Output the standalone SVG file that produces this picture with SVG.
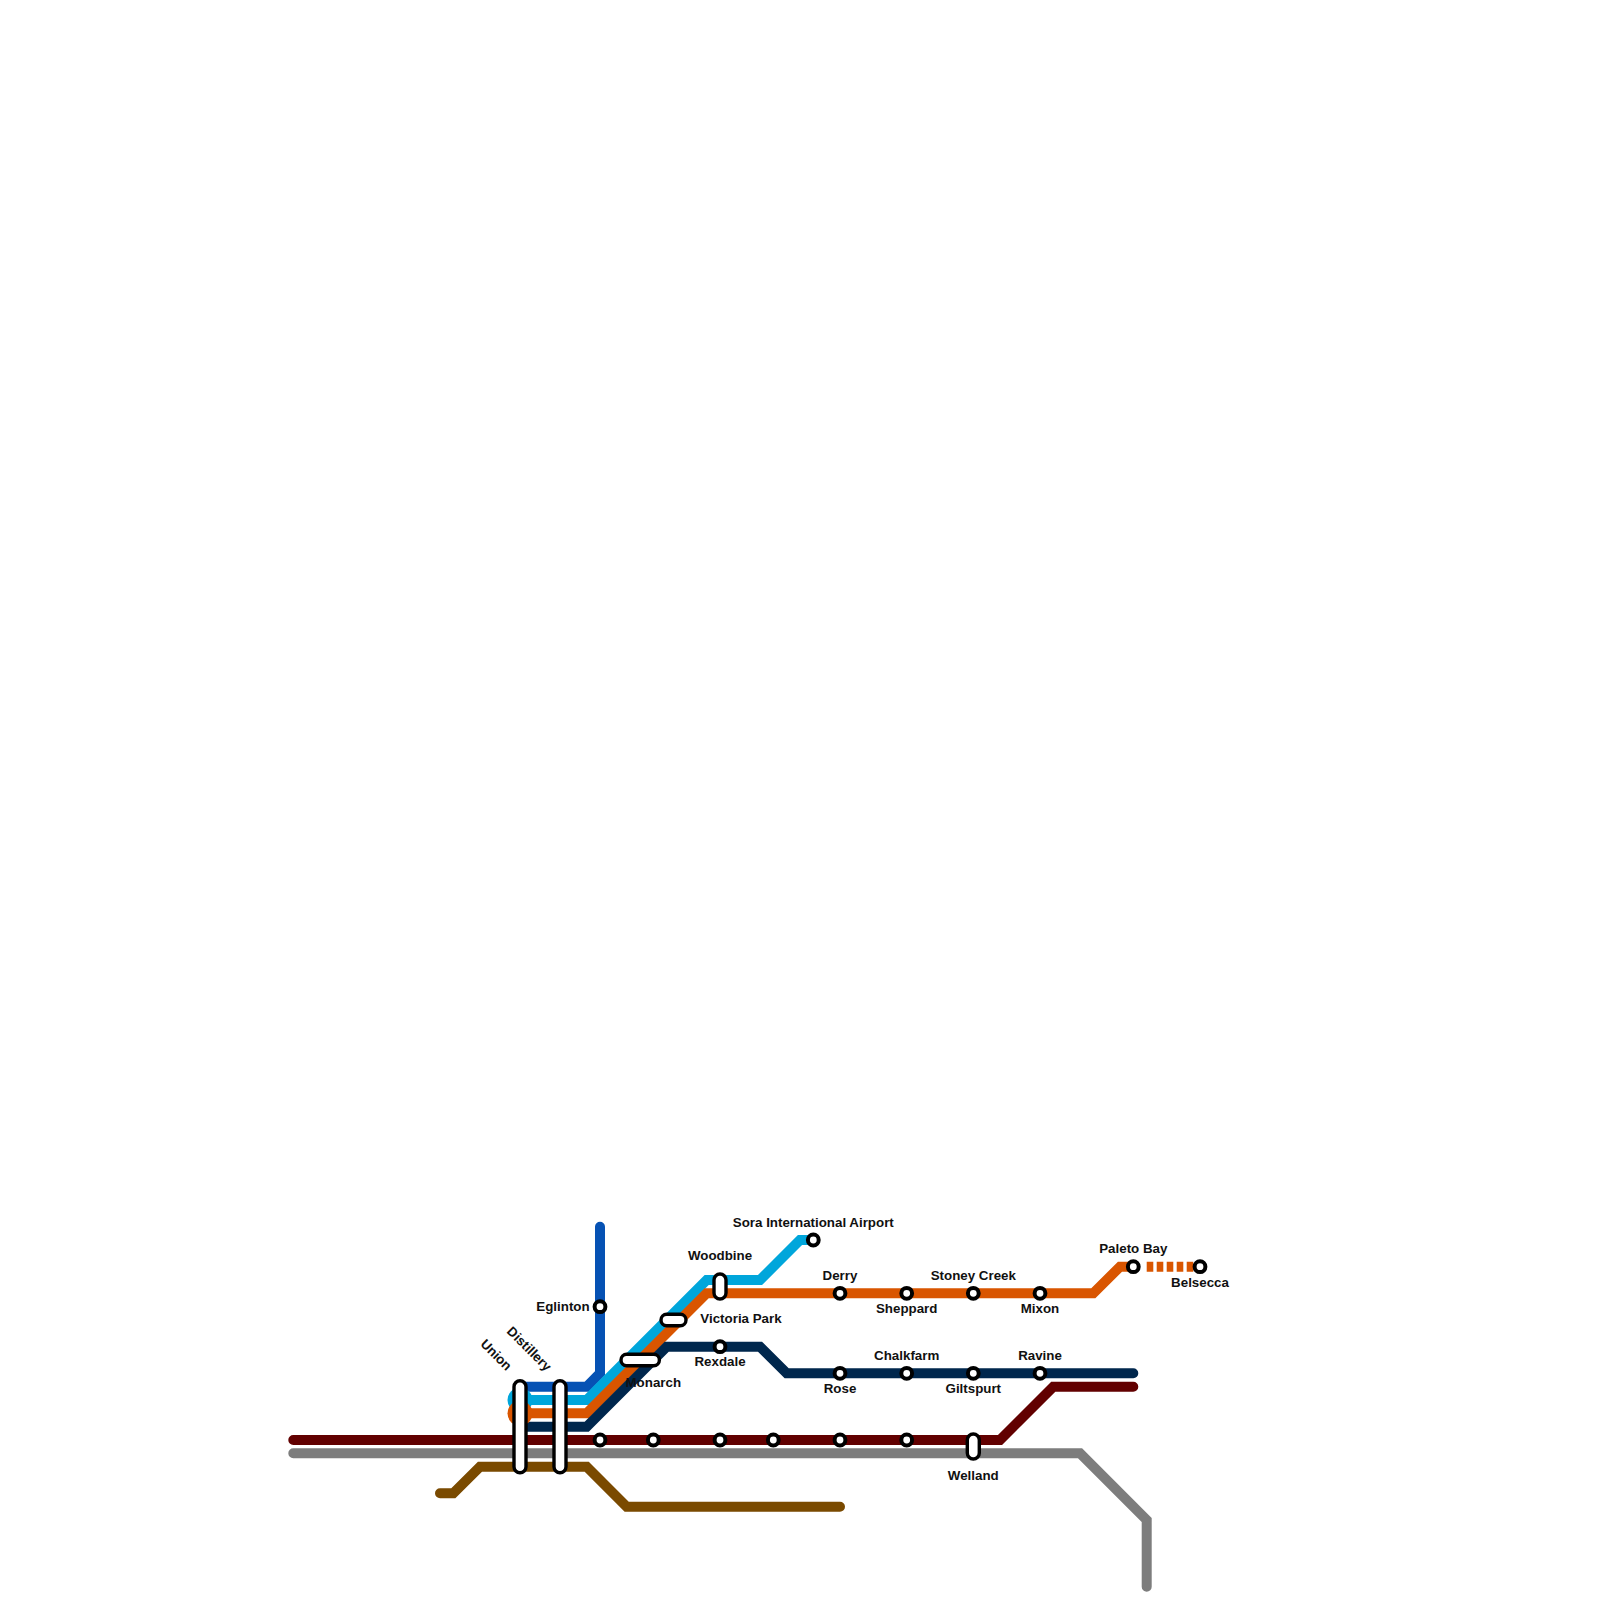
<svg xmlns="http://www.w3.org/2000/svg" width="1600" height="1600" viewBox="0 0 1600 1600">
<style>
.l{fill:none;stroke-width:10;stroke-linecap:round;stroke-linejoin:miter}
.s{fill:#fff;stroke:#000;stroke-width:4}
.p{fill:#fff;stroke:#000;stroke-width:3.4}
text{font-family:"Liberation Sans",Arial,sans-serif;font-size:13.33px;font-weight:700;fill:#111;text-anchor:middle}
</style>
<rect width="1600" height="1600" fill="#fff"/>
<g id="connectors">
<path class="l" stroke="#7d7d7d" d="M293.300 1453.300H1080L1146.700 1520V1586.700"/>
<path class="l" stroke="#620000" d="M293.300 1440H1000L1053.300 1386.700H1133.300"/>
<path class="l" stroke="#7a4a00" d="M440 1493.300H453.300L480 1466.700H586.700L626.700 1506.700H840"/>
<path class="l" stroke="#0652b4" d="M600 1226.700V1373.300L586.700 1386.700H520"/>
<path class="l" stroke="#00a6db" d="M520 1400H586.700L706.700 1280H760L800 1240H813.300"/>
<path class="l" stroke="#d95500" d="M520 1413.300H586.700L706.700 1293.300H1093.300L1120 1266.700H1133.300"/>
<path class="l" stroke="#00274d" d="M520 1426.700H586.700L666.700 1346.700H760L786.700 1373.300H1133.300"/>
<path fill="none" stroke="#d95500" stroke-width="10" stroke-dasharray="6.600 3.400" d="M1146.700 1266.700H1200"/>
<circle cx="520" cy="1400" r="12.500" fill="#00a6db"/>
<circle cx="520" cy="1413.300" r="12.500" fill="#d95500"/>
</g>
<g id="eglinton"><circle class="s" cx="600" cy="1306.700" r="5.400"/><text x="563" y="1310.500">Eglinton</text></g>
<g id="sora"><circle class="s" cx="813.300" cy="1240" r="5.400"/><text x="813.300" y="1226.500">Sora International Airport</text></g>
<g id="woodbine"><rect class="p" x="714" y="1274" width="12" height="25" rx="6"/><text x="720" y="1260">Woodbine</text></g>
<g id="victoria-park"><rect class="p" x="661" y="1314.300" width="25" height="11.400" rx="5.700"/><text x="741" y="1323">Victoria Park</text></g>
<g id="monarch"><rect class="p" x="621" y="1354.300" width="38.400" height="11.400" rx="5.700"/><text x="653.300" y="1386.500">Monarch</text></g>
<g id="rexdale"><circle class="s" cx="720" cy="1346.700" r="5.400"/><text x="720" y="1366">Rexdale</text></g>
<g id="derry"><circle class="s" cx="840" cy="1293.300" r="5.400"/><text x="840" y="1280">Derry</text></g>
<g id="sheppard"><circle class="s" cx="906.700" cy="1293.300" r="5.400"/><text x="906.700" y="1313">Sheppard</text></g>
<g id="stoney-creek"><circle class="s" cx="973.300" cy="1293.300" r="5.400"/><text x="973.300" y="1280">Stoney Creek</text></g>
<g id="mixon"><circle class="s" cx="1040" cy="1293.300" r="5.400"/><text x="1040" y="1313">Mixon</text></g>
<g id="paleto-bay"><circle class="s" cx="1133.300" cy="1266.700" r="5.400"/><text x="1133.300" y="1253">Paleto Bay</text></g>
<g id="belsecca"><circle class="s" cx="1200" cy="1266.700" r="5.400"/><text x="1200" y="1287">Belsecca</text></g>
<g id="rose"><circle class="s" cx="840" cy="1373.300" r="5.400"/><text x="840" y="1393">Rose</text></g>
<g id="chalkfarm"><circle class="s" cx="906.700" cy="1373.300" r="5.400"/><text x="906.700" y="1360">Chalkfarm</text></g>
<g id="giltspurt"><circle class="s" cx="973.300" cy="1373.300" r="5.400"/><text x="973.300" y="1393">Giltspurt</text></g>
<g id="ravine"><circle class="s" cx="1040" cy="1373.300" r="5.400"/><text x="1040" y="1360">Ravine</text></g>
<g id="union"><rect class="p" x="514" y="1380.700" width="12" height="92" rx="6"/><text transform="translate(493 1358) rotate(45)">Union</text></g>
<g id="distillery"><rect class="p" x="554" y="1380.700" width="12" height="92" rx="6"/><text transform="translate(526 1352) rotate(45)">Distillery</text></g>
<g id="st1"><circle class="s" cx="600" cy="1440" r="5.400"/></g>
<g id="st2"><circle class="s" cx="653.300" cy="1440" r="5.400"/></g>
<g id="st3"><circle class="s" cx="720" cy="1440" r="5.400"/></g>
<g id="st4"><circle class="s" cx="773.300" cy="1440" r="5.400"/></g>
<g id="st5"><circle class="s" cx="840" cy="1440" r="5.400"/></g>
<g id="st6"><circle class="s" cx="906.700" cy="1440" r="5.400"/></g>
<g id="welland"><rect class="p" x="967.300" y="1434" width="12" height="25" rx="6"/><text x="973.300" y="1480">Welland</text></g>
</svg>
